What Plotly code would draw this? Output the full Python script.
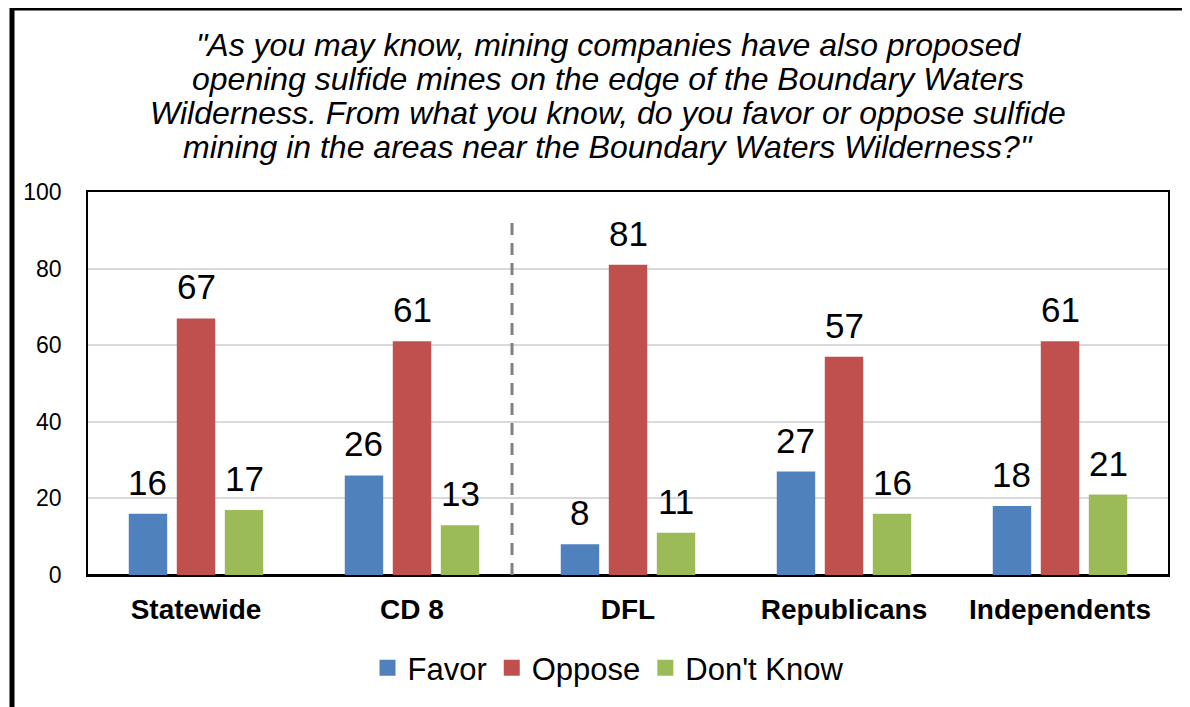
import plotly.graph_objects as go

categories = ["Statewide", "CD 8", "DFL", "Republicans", "Independents"]
favor = [16, 26, 8, 27, 18]
oppose = [67, 61, 81, 57, 61]
dont_know = [17, 13, 11, 16, 21]
y_ticks = [0, 20, 40, 60, 80, 100]

title_lines = ['"As you may know, mining companies have also proposed',
               'opening sulfide mines on the edge of the Boundary Waters',
               'Wilderness. From what you know, do you favor or oppose sulfide',
               'mining in the areas near the Boundary Waters Wilderness?"']

FONT = "Liberation Sans, Arial, sans-serif"
OFF = 8  # page offset
L, R, T, B = 88 - OFF, 30, 192 - OFF, 140
W, H = 1190, 707
pw, ph = W - L - R, H - T - B

series = [("Favor", favor, "#4F81BD"),
          ("Oppose", oppose, "#C0504D"),
          ("Don't Know", dont_know, "#9BBB59")]

fig = go.Figure()
for name, vals, col in series:
    fig.add_trace(go.Bar(name=name, x=categories, y=vals, marker_color=col,
                         marker_line_width=0, showlegend=False))
    fig.add_trace(go.Scatter(name=name, x=[None], y=[None], mode="markers",
                             marker=dict(symbol="square", size=16, color=col),
                             showlegend=True))

# value labels
slot = pw / len(categories) * (1 - 0.333) / 3
for i, (name, vals, col) in enumerate(series):
    for c, v in zip(categories, vals):
        fig.add_annotation(x=c, y=v, xref="x", yref="y", text=str(v),
                           showarrow=False, yanchor="bottom",
                           xshift=(i - 1) * slot, yshift=10,
                           font=dict(size=35, family=FONT, color="black"))

# dashed separator
fig.add_shape(type="line", xref="x", yref="y", x0=1.463, x1=1.463, y0=0, y1=92,
              line=dict(color="#808080", width=3, dash="12px,8px"))

# outer border
fig.add_shape(type="rect", xref="paper", yref="paper",
              x0=(4 - L) / pw, x1=(1215 - L) / pw,
              y0=-(730 - (H - B)) / ph, y1=((H - B) - 0) / ph,
              line=dict(color="black", width=5), layer="above")

# title lines
for k, line in enumerate(title_lines):
    fig.add_annotation(text=line, xref="paper", yref="paper",
                       x=(600 - L) / pw, xanchor="center",
                       y=((H - B) - (37 - OFF + 8 + 34 * k)) / ph, yanchor="middle",
                       showarrow=False,
                       font=dict(size=32, family=FONT, color="black", style="italic"))

fig.update_layout(
    width=W, height=H,
    margin=dict(l=L, r=R, t=T, b=B),
    paper_bgcolor="white", plot_bgcolor="white",
    barmode="group", bargap=0.333, bargroupgap=0.2,
    font=dict(family=FONT, color="black"),
    legend=dict(orientation="h", x=(600 - L) / pw, xanchor="center",
                y=-(660 - (H - B)) / ph, yanchor="middle",
                font=dict(size=31, family=FONT), itemwidth=30,
                traceorder="normal", itemsizing="trace"),
    showlegend=True,
)
fig.update_xaxes(showline=True, linecolor="black", linewidth=1.5, mirror=True,
                 tickfont=dict(size=28, family=FONT, weight="bold"),
                 ticks="", ticklabelstandoff=9)
fig.update_yaxes(range=[0, 100], tickvals=y_ticks, showgrid=True,
                 gridcolor="#D9D9D9", gridwidth=1.5,
                 showline=True, linecolor="black", linewidth=1.5, mirror=True,
                 zeroline=True, zerolinecolor="black", zerolinewidth=3,
                 tickfont=dict(size=23, family=FONT), ticks="",
                 ticklabelstandoff=20)

fig.write_html("out.html")
